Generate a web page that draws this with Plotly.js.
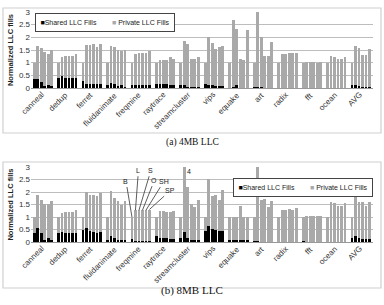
<!DOCTYPE html>
<html><head><meta charset="utf-8">
<script src="https://cdn.plot.ly/plotly-3.0.1.min.js"></script>
<style>html,body{margin:0;padding:0;background:#fff}#c{width:384px;height:305px}</style>
</head><body><div id="c"></div>
<script>
const benchmarks = ["canneal","dedup","ferret","fluidanimate","freqmine","raytrace","streamcluster","vips","equake","art","radix","fft","ocean","AVG"];
const configs = ["B","L","S","O","SH","SP"];
const yTicks = [0,0.5,1,1.5,2,2.5,3];
const yTickText = ["0","0.5","1","1.5","2","2.5","3"];
const seriesNames = ["Shared LLC Fills","Private LLC Fills"];

// (a) 4MB LLC: total normalized fills and shared part, per benchmark x config
const total4MB = [
 [1.0,1.66,1.59,1.41,1.36,1.5],
 [1.0,1.24,1.26,1.26,1.26,1.35],
 [1.0,1.68,1.68,1.72,1.63,1.75],
 [1.0,1.66,1.6,1.5,1.47,1.5],
 [1.0,1.35,1.38,1.38,1.4,1.45],
 [1.0,1.1,1.1,1.12,1.22,1.15],
 [1.0,1.87,1.72,1.13,1.13,1.24],
 [1.0,2.0,1.79,1.53,1.6,1.64],
 [1.0,2.68,2.32,1.13,1.1,2.29],
 [1.0,2.99,2.0,1.26,1.26,1.83],
 [1.0,1.35,1.35,1.37,1.37,1.4],
 [1.0,1.02,1.02,1.02,1.0,1.02],
 [1.0,1.25,1.24,1.13,1.13,1.21],
 [1.0,1.67,1.58,1.3,1.3,1.52]
];
const shared4MB = [
 [0.36,0.36,0.22,0.08,0.1,0.07],
 [0.38,0.46,0.4,0.38,0.38,0.38],
 [0.28,0.14,0.14,0.14,0.14,0.14],
 [0.1,0.2,0.16,0.09,0.12,0.04],
 [0.1,0.1,0.1,0.1,0.1,0.1],
 [0.15,0.14,0.14,0.14,0.1,0.12],
 [0.1,0.1,0.05,0.03,0.02,0.02],
 [0.15,0.1,0.1,0.08,0.08,0.08],
 [0.0,0.02,0.1,0.0,0.0,0.0],
 [0.02,0.03,0.02,0.0,0.0,0.0],
 [0,0,0,0,0,0],
 [0,0,0,0,0,0],
 [0,0,0,0,0,0],
 [0.12,0.12,0.08,0.05,0.05,0.05]
];
// (b) 8MB LLC
const total8MB = [
 [1.0,1.88,1.68,1.52,1.52,1.65],
 [1.0,1.15,1.2,1.2,1.2,1.3],
 [1.0,2.0,1.88,1.88,1.85,1.95],
 [1.0,2.03,1.75,1.65,1.5,1.65],
 [1.0,1.27,1.27,1.27,1.27,1.3],
 [1.0,1.25,1.25,1.2,1.2,1.25],
 [1.0,4.0,2.2,1.53,1.39,1.69],
 [1.0,2.54,1.86,1.89,1.69,2.07],
 [1.0,1.0,1.0,1.45,1.0,1.0],
 [1.0,3.1,1.69,1.73,1.42,1.66],
 [1.0,1.3,1.3,1.32,1.3,1.38],
 [1.0,1.05,1.05,1.05,1.03,1.03],
 [1.0,1.6,1.58,1.45,1.45,1.58],
 [1.0,1.85,1.6,1.6,1.45,1.6]
];
const shared8MB = [
 [0.38,0.58,0.35,0.1,0.15,0.1],
 [0.37,0.42,0.37,0.37,0.37,0.37],
 [0.5,0.57,0.45,0.4,0.37,0.42],
 [0.1,0.23,0.15,0.1,0.08,0.08],
 [0.13,0.05,0.05,0.05,0.05,0.05],
 [0.25,0.17,0.17,0.15,0.13,0.13],
 [0.18,0.42,0.18,0.08,0.08,0.08],
 [0.45,0.65,0.52,0.5,0.45,0.45],
 [0.07,0.07,0.07,0.07,0.07,0.07],
 [0.03,0.05,0.02,0.02,0.02,0.02],
 [0,0,0,0,0,0],
 [0.03,0,0,0,0,0],
 [0,0,0,0,0,0],
 [0.15,0.25,0.17,0.13,0.12,0.12]
];

const SLOT = 7;
const xs = [], flatT4 = [], flatS4 = [], flatT8 = [], flatS8 = [];
benchmarks.forEach((b,i)=>configs.forEach((c,j)=>{
  xs.push(i*SLOT+j);
  flatT4.push(total4MB[i][j]); flatS4.push(shared4MB[i][j]);
  flatT8.push(total8MB[i][j]); flatS8.push(shared8MB[i][j]);
}));
const centers = benchmarks.map((b,i)=>i*SLOT+2.5);

const GRAY = '#a9a9a9';
const FAM = 'Liberation Sans, Arial, sans-serif';
const W = 384, H = 305;
const px = x => x/W, py = y => 1 - y/H;

const traces = [
 {type:'bar', x:xs, y:flatT4, name:seriesNames[1], marker:{color:GRAY}, width:0.8, xaxis:'x', yaxis:'y', hoverinfo:'skip'},
 {type:'bar', x:xs, y:flatS4, name:seriesNames[0], marker:{color:'#000'}, width:0.8, xaxis:'x', yaxis:'y', hoverinfo:'skip'},
 {type:'bar', x:xs, y:flatT8, name:seriesNames[1], marker:{color:GRAY}, width:0.8, xaxis:'x2', yaxis:'y2', hoverinfo:'skip'},
 {type:'bar', x:xs, y:flatS8, name:seriesNames[0], marker:{color:'#000'}, width:0.8, xaxis:'x2', yaxis:'y2', hoverinfo:'skip'}
];

const xr = [-0.9, 13*SLOT+6.0];
const xaxisBase = {range:xr, tickmode:'array', tickvals:centers, ticktext:benchmarks, showticklabels:false,
  showgrid:false, zeroline:false, automargin:false,
  showline:true, linecolor:'#999', linewidth:1, ticks:'', fixedrange:true};
const yaxisBase = {range:[0,3], tickmode:'array', tickvals:yTicks, ticktext:yTickText, showgrid:true, gridcolor:'#bdbdbd', gridwidth:1,
  zeroline:false, showline:false, ticks:'', automargin:false, tickfont:{size:8, family:FAM, color:'#333'},
  title:{text:'<b>Normalized LLC fills</b>', font:{size:7.5, family:FAM, color:'#222'}, standoff:4}, fixedrange:true};

function legendText(){
  return '<span style="color:#000">■</span>' + seriesNames[0] +
    '        <span style="color:' + GRAY + '">■</span> ' + seriesNames[1];
}
const annotations = [];
// rotated category labels under each panel
[['x', 89], ['x2', 243]].forEach(([xref, yPix]) => {
  benchmarks.forEach((b,i) => annotations.push({
    xref:xref, yref:'paper', x:centers[i]+1.2, y:py(yPix), xanchor:'right', yanchor:'top',
    text:b, textangle:-45, showarrow:false, font:{size:8, family:FAM, color:'#333'}, borderpad:0
  }));
});
annotations.push({xref:'paper', yref:'paper', x:px(35), y:py(13), xanchor:'left', yanchor:'top', text:legendText(),
  showarrow:false, bgcolor:'#fff', bordercolor:'#444', borderwidth:1, borderpad:2, width:134, height:13, align:'center',
  font:{size:7, family:FAM, color:'#222'}});
annotations.push({xref:'paper', yref:'paper', x:px(233), y:py(178), xanchor:'left', yanchor:'top', text:legendText(),
  showarrow:false, bgcolor:'#fff', bordercolor:'#444', borderwidth:1, borderpad:2, width:134, height:13, align:'center',
  font:{size:7, family:FAM, color:'#222'}});

// freqmine config labels in panel (b)
const fi = benchmarks.indexOf('freqmine');
const labelOffsets = [[-6,-36],[3,-40],[12,-40],[12,-30],[18,-29],[21,-19]];
configs.forEach((c,j)=>annotations.push({
  xref:'x2', yref:'y2', x:fi*SLOT+j, y:total8MB[fi][j], text:c, showarrow:true, arrowhead:0, arrowwidth:0.8,
  arrowcolor:'#333', ax:labelOffsets[j][0], ay:labelOffsets[j][1], font:{size:7, family:FAM, color:'#222'},
  standoff:0, startstandoff:1
}));
const si = benchmarks.indexOf('streamcluster');
annotations.push({xref:'x2', yref:'y2', x:si*SLOT+1+1.4, y:2.82, text:'4', showarrow:false,
  font:{size:7, family:FAM, color:'#222'}});
annotations.push({xref:'paper', yref:'paper', x:px(192), y:py(143), text:'(a) 4MB LLC', showarrow:false,
  font:{size:9.5, family:'Liberation Serif, Times New Roman, serif', color:'#111'}});
annotations.push({xref:'paper', yref:'paper', x:px(192), y:py(299), text:'(b) 8MB LLC', showarrow:false,
  font:{size:11, family:'Liberation Serif, Times New Roman, serif', color:'#111'}});

const layout = {
  width:W, height:H, margin:{l:0,r:0,t:0,b:0}, paper_bgcolor:'#fff', plot_bgcolor:'#fff',
  barmode:'overlay', bargap:0, showlegend:false,
  xaxis:Object.assign({}, xaxisBase, {domain:[px(31), px(373)], anchor:'y'}),
  yaxis:Object.assign({}, yaxisBase, {domain:[py(88), py(12)], anchor:'x'}),
  xaxis2:Object.assign({}, xaxisBase, {domain:[px(31), px(373)], anchor:'y2'}),
  yaxis2:Object.assign({}, yaxisBase, {domain:[py(242), py(167)], anchor:'x2'}),
  shapes:[
    {type:'rect', xref:'paper', yref:'paper', x0:px(3), x1:px(381), y0:py(133), y1:py(8), line:{color:'#d0d0d0', width:1.2}},
    {type:'rect', xref:'paper', yref:'paper', x0:px(3), x1:px(381), y0:py(288), y1:py(162), line:{color:'#d0d0d0', width:1.2}}
  ],
  annotations:annotations,
  font:{family:FAM, color:'#222'}
};
Plotly.newPlot('c', traces, layout, {displayModeBar:false, staticPlot:true});
</script></body></html>
